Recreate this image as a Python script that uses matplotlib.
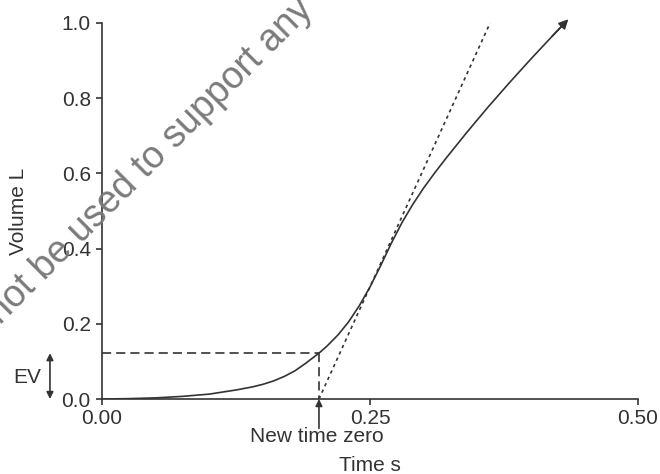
import matplotlib
matplotlib.use("Agg")
import matplotlib.pyplot as plt

plt.rcParams['font.family'] = ['Liberation Sans', 'DejaVu Sans']

# volume-time curve
time_s = [0.0, 0.025, 0.05, 0.075, 0.10, 0.125, 0.14, 0.15, 0.16, 0.17,
          0.18, 0.19, 0.2024, 0.21, 0.22, 0.23, 0.24, 0.25, 0.26, 0.27,
          0.28, 0.29, 0.30, 0.31, 0.32, 0.34, 0.36, 0.38, 0.40, 0.42, 0.435]
volume_l = [0.0, 0.001, 0.003, 0.007, 0.013, 0.024, 0.032, 0.039, 0.048, 0.06,
            0.075, 0.095, 0.122, 0.141, 0.170, 0.205, 0.248, 0.298, 0.355, 0.415,
            0.470, 0.518, 0.561, 0.600, 0.637, 0.708, 0.776, 0.841, 0.904, 0.965, 1.01]

# back-extrapolation
new_zero = 0.2024
ev = 0.122
tangent_t = [0.2024, 0.362]
tangent_v = [0.0, 1.0]

x_ticks = [0.0, 0.25, 0.5]
x_labels = ['0.00', '0.25', '0.50']
y_ticks = [0.0, 0.2, 0.4, 0.6, 0.8, 1.0]
y_labels = ['0.0', '0.2', '0.4', '0.6', '0.8', '1.0']

ink = '#333333'
fs = 15

fig = plt.figure(figsize=(6.6, 4.74), dpi=100)
ax = fig.add_axes([0.1545, 0.1582, 0.8122, 0.7933])

# watermark
fig.text(0.0, 0.3143, 'not be used to support any', rotation=45,
         rotation_mode='anchor', ha='left', va='baseline',
         fontsize=27, color='#7a7a7a', zorder=0)

ax.plot(time_s, volume_l, color=ink, lw=1.2, zorder=3)
ax.annotate('', xy=(time_s[-1], volume_l[-1]), xytext=(time_s[-2], volume_l[-2]),
            arrowprops=dict(arrowstyle='-|>', color=ink, lw=1.2,
                            mutation_scale=14, shrinkA=0, shrinkB=0),
            annotation_clip=False)

ax.plot(tangent_t, tangent_v, color=ink, lw=1.2, linestyle=(0, (2, 2.2)))
ax.plot([0, new_zero], [ev, ev], color=ink, lw=1.2, linestyle=(0, (5.5, 3)))
ax.plot([new_zero, new_zero], [ev, 0], color=ink, lw=1.2, linestyle=(0, (5.5, 3)))

# EV marker
ax.annotate('', xy=(-0.0485, 0.0), xytext=(-0.0485, ev),
            arrowprops=dict(arrowstyle='<|-|>', color=ink, lw=1.2,
                            mutation_scale=10, shrinkA=0, shrinkB=0),
            annotation_clip=False)
ax.text(-0.07, 0.058, 'EV', ha='center', va='center', fontsize=fs,
        color=ink, clip_on=False)

# new time zero marker
ax.annotate('', xy=(new_zero, 0.0), xytext=(new_zero, -0.078),
            arrowprops=dict(arrowstyle='-|>', color=ink, lw=1.2,
                            mutation_scale=10, shrinkA=0, shrinkB=0),
            annotation_clip=False)
ax.text(new_zero - 0.002, -0.101, 'New time zero', ha='center', va='center',
        fontsize=fs, color=ink, clip_on=False)

ax.set_xlim(0, 0.5)
ax.set_ylim(0, 1.0)
ax.set_xticks(x_ticks)
ax.set_xticklabels(x_labels)
ax.set_yticks(y_ticks)
ax.set_yticklabels(y_labels)
ax.tick_params(direction='out', length=4, width=1.2, colors=ink,
               labelsize=fs, pad=3)
ax.tick_params(axis='y', pad=4)

for side in ['top', 'right']:
    ax.spines[side].set_visible(False)
for side in ['left', 'bottom']:
    ax.spines[side].set_color(ink)
    ax.spines[side].set_linewidth(1.2)
ax.patch.set_alpha(0)

ax.set_xlabel('Time s', fontsize=fs, color=ink)
ax.set_ylabel('Volume L', fontsize=fs, color=ink)
ax.xaxis.set_label_coords(0.5, -0.152)
ax.yaxis.set_label_coords(-0.138, 0.5)

fig.savefig('out.png', dpi=100)
